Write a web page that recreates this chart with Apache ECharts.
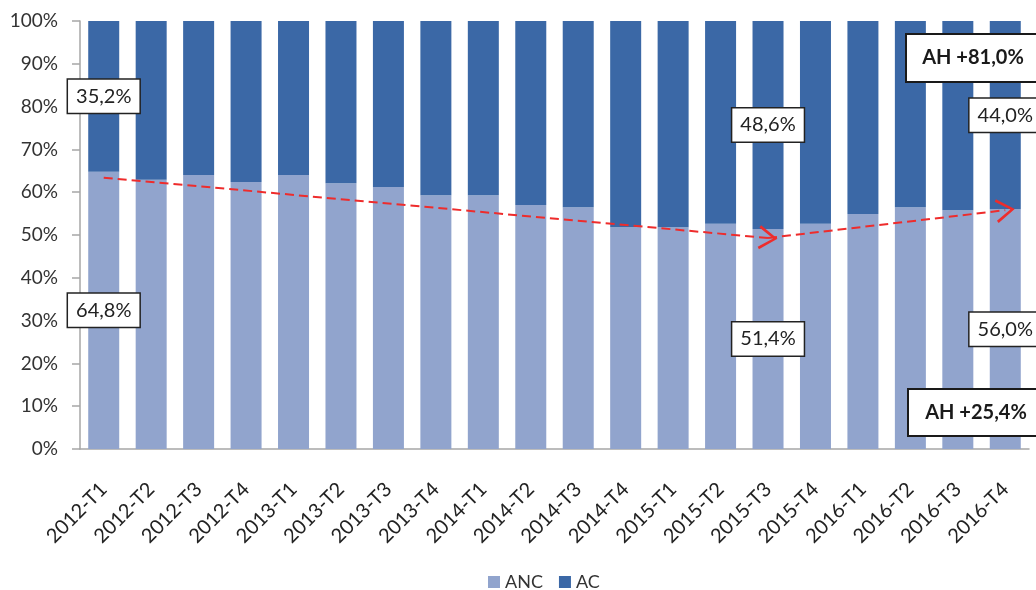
<!DOCTYPE html>
<html>
<head>
<meta charset="utf-8">
<script src="https://cdn.jsdelivr.net/npm/echarts@6/dist/echarts.min.js"></script>
<style>
  html, body { margin: 0; padding: 0; background: #fff; }
  #chart { width: 1036px; height: 590px; }
</style>
</head>
<body>
<div id="chart"></div>
<script>
// Quarterly split between ANC and AC (share of total, %)
const categories = [
  '2012-T1', '2012-T2', '2012-T3', '2012-T4',
  '2013-T1', '2013-T2', '2013-T3', '2013-T4',
  '2014-T1', '2014-T2', '2014-T3', '2014-T4',
  '2015-T1', '2015-T2', '2015-T3', '2015-T4',
  '2016-T1', '2016-T2', '2016-T3', '2016-T4'
];
const ancValues = [64.8, 62.9, 64.0, 62.4, 64.0, 62.1, 61.2, 59.3, 59.3, 57.0,
                   56.5, 51.8, 51.8, 52.6, 51.4, 52.6, 54.9, 56.5, 55.8, 56.0];
const acValues  = [35.2, 37.1, 36.0, 37.6, 36.0, 37.9, 38.8, 40.7, 40.7, 43.0,
                   43.5, 48.2, 48.2, 47.4, 48.6, 47.4, 45.1, 43.5, 44.2, 44.0];
const labelledQuarters = ['2012-T1', '2015-T3', '2016-T4'];
const yTicks = [0, 10, 20, 30, 40, 50, 60, 70, 80, 90, 100];

// Trend arrows: [from quarter, from %], [to quarter, to %]
const trendDown = [['2012-T1', 63.4], ['2015-T3', 49.3]];
const trendUp   = [['2015-T3', 49.3], ['2016-T4', 55.8]];

// Growth notes
const noteAC  = 'AH +81,0%';
const noteANC = 'AH +25,4%';

const FONT = 'Lato, "Noto Sans", sans-serif';
const fmt = v => v.toFixed(1).replace('.', ',') + '%';

const boxLabel = {
  show: true,
  position: 'inside',
  formatter: p => fmt(p.value),
  backgroundColor: '#ffffff',
  borderColor: '#222222',
  borderWidth: 1.5,
  padding: [7, 8, 6, 8],
  fontSize: 20,
  fontFamily: FONT,
  color: '#222222'
};

function buildData(values) {
  return values.map((v, i) => {
    if (labelledQuarters.includes(categories[i])) {
      return { value: v, label: boxLabel };
    }
    return v;
  });
}

// open chevron used as arrow head
const arrowHead = 'path://M10,0 L20,18 L18,19.5 L10,4.5 L2,19.5 L0,18 Z';

function note(x, y, w, h, text, tx, ty) {
  return {
    type: 'group',
    children: [
      { type: 'rect', z: 100, shape: { x: x, y: y, width: w, height: h },
        style: { fill: '#fff', stroke: '#1a1a1a', lineWidth: 2 } },
      { type: 'text', z: 101, x: tx, y: ty,
        style: { text: text, fill: '#1a1a1a', font: 'bold 20px ' + FONT,
                 align: 'center', verticalAlign: 'middle' } }
    ]
  };
}

const chart = echarts.init(document.getElementById('chart'));
chart.setOption({
  animation: false,
  textStyle: { fontFamily: FONT },
  grid: { left: 80, right: 7, top: 21, bottom: 141 },
  legend: {
    data: ['ANC', 'AC'],
    top: 568,
    left: 483,
    icon: 'rect',
    itemWidth: 12,
    itemHeight: 12,
    itemGap: 16,
    textStyle: { fontSize: 18, color: '#333', fontFamily: FONT }
  },
  xAxis: {
    type: 'category',
    data: categories,
    axisLine: { lineStyle: { color: '#a6a6a6', width: 1.5 } },
    axisTick: { show: false },
    axisLabel: {
      rotate: 45,
      margin: 37,
      fontSize: 20,
      color: '#222',
      fontFamily: FONT,
      interval: 0
    }
  },
  yAxis: {
    type: 'value',
    min: yTicks[0],
    max: yTicks[yTicks.length - 1],
    interval: yTicks[1] - yTicks[0],
    axisLine: { show: true, lineStyle: { color: '#a6a6a6', width: 1.5 } },
    axisTick: { show: true, length: 8, lineStyle: { color: '#a6a6a6', width: 1.5 } },
    splitLine: { show: false },
    axisLabel: {
      formatter: '{value}%',
      margin: 22,
      fontSize: 19,
      color: '#333',
      fontFamily: FONT
    }
  },
  series: [
    {
      name: 'ANC',
      type: 'bar',
      stack: 'total',
      barWidth: 31,
      itemStyle: { color: '#91a4cd' },
      data: buildData(ancValues),
      markLine: {
        silent: true,
        symbol: ['none', arrowHead],
        symbolSize: [24, 19],
        label: { show: false },
        lineStyle: { color: '#ee2c2c', type: [9, 5], width: 2 },
        data: [
          [{ coord: trendDown[0] }, { coord: trendDown[1] }],
          [{ coord: trendUp[0] }, { coord: trendUp[1] }]
        ],
        z: 5
      }
    },
    {
      name: 'AC',
      type: 'bar',
      stack: 'total',
      barWidth: 31,
      itemStyle: { color: '#3b68a6' },
      data: buildData(acValues)
    }
  ],
  graphic: {
    z: 100,
    elements: [
      note(906, 34, 140, 48, noteAC, 973, 58),
      note(908, 389, 140, 47, noteANC, 976, 412.5)
    ]
  }
});
</script>
</body>
</html>
